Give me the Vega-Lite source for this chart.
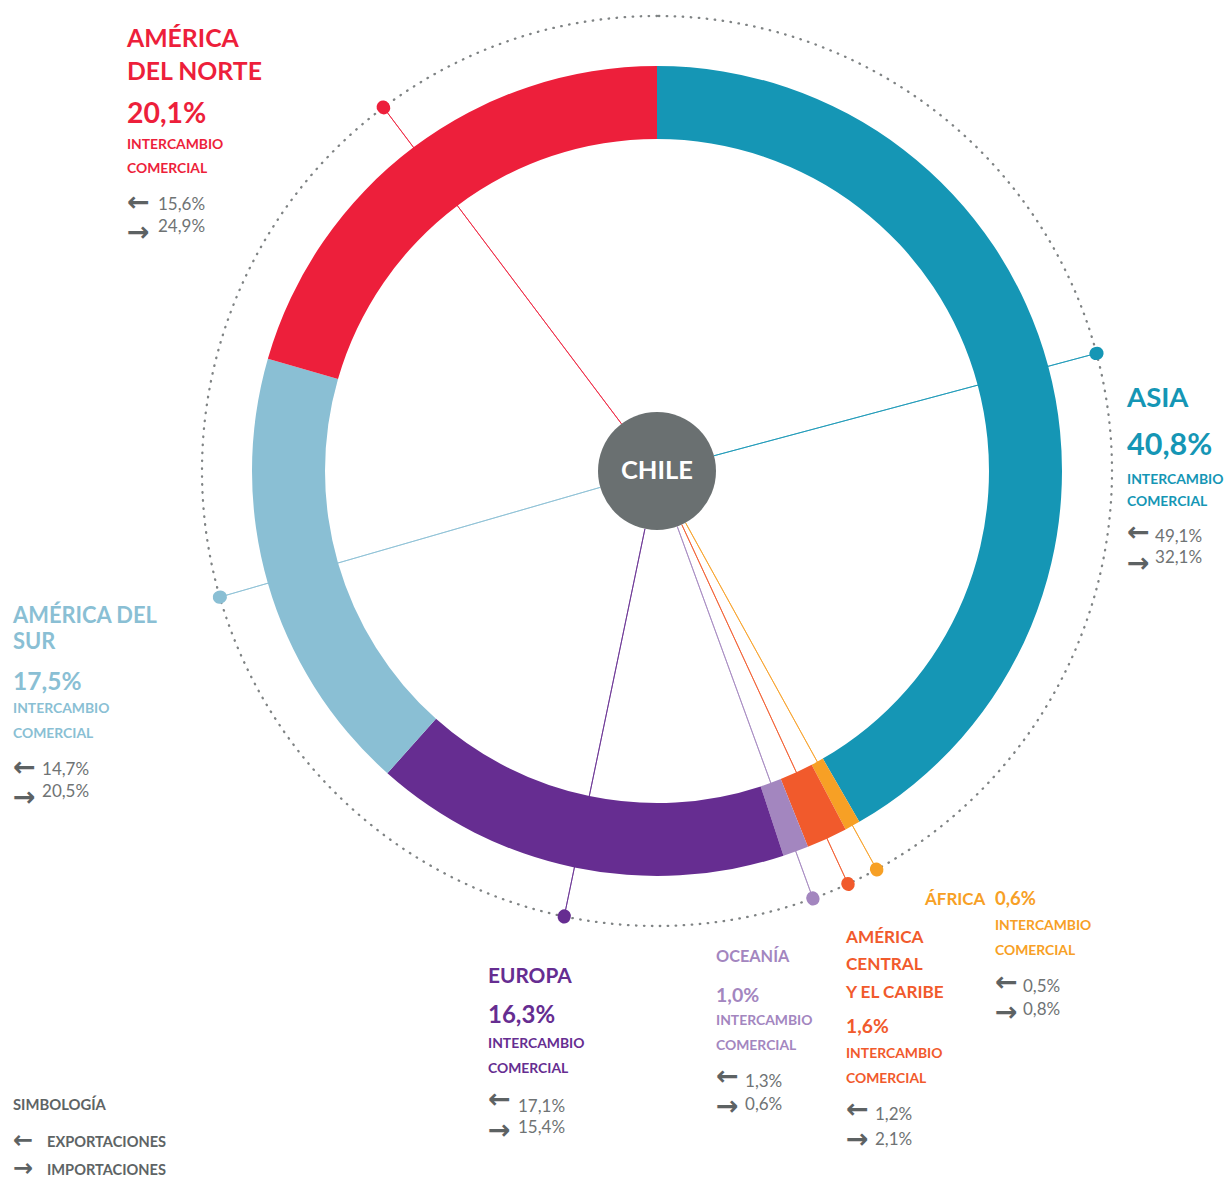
{
  "$schema": "https://vega.github.io/schema/vega-lite/v6.json",
  "width": 1136,
  "height": 942,
  "autosize": {"type": "none"},
  "padding": {"left": 89, "top": 0, "right": 0, "bottom": 239},
  "background": "white",
  "config": {
    "view": {"stroke": null},
    "locale": {"number": {"decimal": ",", "thousands": ".", "grouping": [3], "currency": ["$", ""]}},
    "text": {"font": "Lato"}
  },
  "data": {
    "values": [
      {"region": "Asia", "nombre": ["ASIA"], "share": 0.408, "expo": 0.491, "impo": 0.321},
      {"region": "África", "nombre": ["ÁFRICA"], "share": 0.006, "expo": 0.005, "impo": 0.008},
      {"region": "América Central y el Caribe", "nombre": ["AMÉRICA", "CENTRAL", "Y EL CARIBE"], "share": 0.016, "expo": 0.012, "impo": 0.021},
      {"region": "Oceanía", "nombre": ["OCEANÍA"], "share": 0.010, "expo": 0.013, "impo": 0.006},
      {"region": "Europa", "nombre": ["EUROPA"], "share": 0.163, "expo": 0.171, "impo": 0.154},
      {"region": "América del Sur", "nombre": ["AMÉRICA DEL", "SUR"], "share": 0.175, "expo": 0.147, "impo": 0.205},
      {"region": "América del Norte", "nombre": ["AMÉRICA", "DEL NORTE"], "share": 0.201, "expo": 0.156, "impo": 0.249}
    ]
  },
  "transform": [{"window": [{"op": "row_number", "as": "orden"}]}],
  "layer": [
    {
      "data": {"values": [{"anillo": "exterior"}]},
      "mark": {"type": "arc", "radius": 455, "radius2": 0, "filled": false, "stroke": "#7f8384", "strokeWidth": 2.3, "strokeDash": [0.5, 7.5], "strokeCap": "round"},
      "encoding": {}
    },
    {
      "encoding": {
        "theta": {"field": "share", "type": "quantitative", "stack": true},
        "order": {"field": "orden", "type": "quantitative"},
        "detail": {"field": "region", "type": "nominal"},
        "color": {
          "field": "region", "type": "nominal", "legend": null,
          "scale": {
            "domain": ["Asia", "África", "América Central y el Caribe", "Oceanía", "Europa", "América del Sur", "América del Norte"],
            "range": ["#1596b5", "#f7a025", "#f15a2c", "#a386bf", "#662d91", "#8abfd4", "#ed1f3b"]
          }
        }
      },
      "layer": [
        {"mark": {"type": "arc", "radius": 455, "radius2": 59, "padAngle": 3.3, "filled": false, "strokeWidth": 0.8}},
        {"mark": {"type": "arc", "radius": 405, "radius2": 332}},
        {"mark": {"type": "arc", "radius": 455.6, "radius2": 454.4, "padAngle": 3.3, "filled": false, "strokeWidth": 13, "strokeJoin": "round", "strokeCap": "round"}},

        {"mark": {"type": "text", "radius": 455, "align": "left", "baseline": "alphabetic", "dx": -256.5, "dy": -60.4, "fontSize": 24.8, "fontWeight": "bold", "lineHeight": 33},
         "encoding": {"text": {"condition": {"test": "datum.region === 'América del Norte'", "field": "nombre", "type": "nominal"}, "value": ""}}},
        {"mark": {"type": "text", "radius": 455, "align": "left", "baseline": "alphabetic", "dx": -256.5, "dy": 15.6, "fontSize": 28.4, "fontWeight": "bold"},
         "encoding": {"text": {"condition": {"test": "datum.region === 'América del Norte'", "field": "share", "type": "quantitative", "format": ".1%"}, "value": ""}}},
        {"mark": {"type": "text", "radius": 455, "align": "left", "baseline": "alphabetic", "dx": -256.5, "dy": 41.1, "fontSize": 13.9, "fontWeight": "bold", "lineHeight": 24.5},
         "encoding": {"text": {"condition": {"test": "datum.region === 'América del Norte'", "value": ["INTERCAMBIO", "COMERCIAL"]}, "value": ""}}},
        {"mark": {"type": "text", "radius": 455, "align": "left", "baseline": "middle", "dx": -256.5, "dy": 95.6, "font": "DejaVu Sans", "fontSize": 27, "fontWeight": "bold", "lineHeight": 30},
         "encoding": {"color": {"value": "#5d6263"}, "text": {"condition": {"test": "datum.region === 'América del Norte'", "value": ["←", "→"]}, "value": ""}}},
        {"mark": {"type": "text", "radius": 455, "align": "left", "baseline": "alphabetic", "dx": -225.5, "dy": 102.6, "fontSize": 17},
         "encoding": {"color": {"value": "#6f7374"}, "text": {"condition": {"test": "datum.region === 'América del Norte'", "field": "expo", "type": "quantitative", "format": ".1%"}, "value": ""}}},
        {"mark": {"type": "text", "radius": 455, "align": "left", "baseline": "alphabetic", "dx": -225.5, "dy": 124.6, "fontSize": 17},
         "encoding": {"color": {"value": "#6f7374"}, "text": {"condition": {"test": "datum.region === 'América del Norte'", "field": "impo", "type": "quantitative", "format": ".1%"}, "value": ""}}},

        {"mark": {"type": "text", "radius": 455, "align": "left", "baseline": "alphabetic", "dx": 30.5, "dy": 53.7, "fontSize": 27.5, "fontWeight": "bold"},
         "encoding": {"text": {"condition": {"test": "datum.region === 'Asia'", "field": "nombre", "type": "nominal"}, "value": ""}}},
        {"mark": {"type": "text", "radius": 455, "align": "left", "baseline": "alphabetic", "dx": 30.5, "dy": 101.7, "fontSize": 30.5, "fontWeight": "bold"},
         "encoding": {"text": {"condition": {"test": "datum.region === 'Asia'", "field": "share", "type": "quantitative", "format": ".1%"}, "value": ""}}},
        {"mark": {"type": "text", "radius": 455, "align": "left", "baseline": "alphabetic", "dx": 30.5, "dy": 130.7, "fontSize": 13.9, "fontWeight": "bold", "lineHeight": 22},
         "encoding": {"text": {"condition": {"test": "datum.region === 'Asia'", "value": ["INTERCAMBIO", "COMERCIAL"]}, "value": ""}}},
        {"mark": {"type": "text", "radius": 455, "align": "left", "baseline": "middle", "dx": 30.5, "dy": 179.7, "font": "DejaVu Sans", "fontSize": 27, "fontWeight": "bold", "lineHeight": 31},
         "encoding": {"color": {"value": "#5d6263"}, "text": {"condition": {"test": "datum.region === 'Asia'", "value": ["←", "→"]}, "value": ""}}},
        {"mark": {"type": "text", "radius": 455, "align": "left", "baseline": "alphabetic", "dx": 58.5, "dy": 188.7, "fontSize": 17},
         "encoding": {"color": {"value": "#6f7374"}, "text": {"condition": {"test": "datum.region === 'Asia'", "field": "expo", "type": "quantitative", "format": ".1%"}, "value": ""}}},
        {"mark": {"type": "text", "radius": 455, "align": "left", "baseline": "alphabetic", "dx": 58.5, "dy": 209.7, "fontSize": 17},
         "encoding": {"color": {"value": "#6f7374"}, "text": {"condition": {"test": "datum.region === 'Asia'", "field": "impo", "type": "quantitative", "format": ".1%"}, "value": ""}}},

        {"mark": {"type": "text", "radius": 455, "align": "left", "baseline": "alphabetic", "dx": -206.8, "dy": 25.9, "fontSize": 21.9, "fontWeight": "bold", "lineHeight": 26},
         "encoding": {"text": {"condition": {"test": "datum.region === 'América del Sur'", "field": "nombre", "type": "nominal"}, "value": ""}}},
        {"mark": {"type": "text", "radius": 455, "align": "left", "baseline": "alphabetic", "dx": -206.8, "dy": 92.9, "fontSize": 24.5, "fontWeight": "bold"},
         "encoding": {"text": {"condition": {"test": "datum.region === 'América del Sur'", "field": "share", "type": "quantitative", "format": ".1%"}, "value": ""}}},
        {"mark": {"type": "text", "radius": 455, "align": "left", "baseline": "alphabetic", "dx": -206.8, "dy": 115.9, "fontSize": 13.9, "fontWeight": "bold", "lineHeight": 25},
         "encoding": {"text": {"condition": {"test": "datum.region === 'América del Sur'", "value": ["INTERCAMBIO", "COMERCIAL"]}, "value": ""}}},
        {"mark": {"type": "text", "radius": 455, "align": "left", "baseline": "middle", "dx": -206.8, "dy": 170.9, "font": "DejaVu Sans", "fontSize": 27, "fontWeight": "bold", "lineHeight": 30},
         "encoding": {"color": {"value": "#5d6263"}, "text": {"condition": {"test": "datum.region === 'América del Sur'", "value": ["←", "→"]}, "value": ""}}},
        {"mark": {"type": "text", "radius": 455, "align": "left", "baseline": "alphabetic", "dx": -177.8, "dy": 177.9, "fontSize": 17},
         "encoding": {"color": {"value": "#6f7374"}, "text": {"condition": {"test": "datum.region === 'América del Sur'", "field": "expo", "type": "quantitative", "format": ".1%"}, "value": ""}}},
        {"mark": {"type": "text", "radius": 455, "align": "left", "baseline": "alphabetic", "dx": -177.8, "dy": 199.9, "fontSize": 17},
         "encoding": {"color": {"value": "#6f7374"}, "text": {"condition": {"test": "datum.region === 'América del Sur'", "field": "impo", "type": "quantitative", "format": ".1%"}, "value": ""}}},

        {"mark": {"type": "text", "radius": 455, "align": "left", "baseline": "alphabetic", "dx": -76.2, "dy": 66.6, "fontSize": 20.8, "fontWeight": "bold"},
         "encoding": {"text": {"condition": {"test": "datum.region === 'Europa'", "field": "nombre", "type": "nominal"}, "value": ""}}},
        {"mark": {"type": "text", "radius": 455, "align": "left", "baseline": "alphabetic", "dx": -76.2, "dy": 106.6, "fontSize": 24, "fontWeight": "bold"},
         "encoding": {"text": {"condition": {"test": "datum.region === 'Europa'", "field": "share", "type": "quantitative", "format": ".1%"}, "value": ""}}},
        {"mark": {"type": "text", "radius": 455, "align": "left", "baseline": "alphabetic", "dx": -76.2, "dy": 131.6, "fontSize": 13.9, "fontWeight": "bold", "lineHeight": 25},
         "encoding": {"text": {"condition": {"test": "datum.region === 'Europa'", "value": ["INTERCAMBIO", "COMERCIAL"]}, "value": ""}}},
        {"mark": {"type": "text", "radius": 455, "align": "left", "baseline": "middle", "dx": -76.2, "dy": 183.6, "font": "DejaVu Sans", "fontSize": 27, "fontWeight": "bold", "lineHeight": 31},
         "encoding": {"color": {"value": "#5d6263"}, "text": {"condition": {"test": "datum.region === 'Europa'", "value": ["←", "→"]}, "value": ""}}},
        {"mark": {"type": "text", "radius": 455, "align": "left", "baseline": "alphabetic", "dx": -46.2, "dy": 195.6, "fontSize": 17},
         "encoding": {"color": {"value": "#6f7374"}, "text": {"condition": {"test": "datum.region === 'Europa'", "field": "expo", "type": "quantitative", "format": ".1%"}, "value": ""}}},
        {"mark": {"type": "text", "radius": 455, "align": "left", "baseline": "alphabetic", "dx": -46.2, "dy": 216.6, "fontSize": 17},
         "encoding": {"color": {"value": "#6f7374"}, "text": {"condition": {"test": "datum.region === 'Europa'", "field": "impo", "type": "quantitative", "format": ".1%"}, "value": ""}}},

        {"mark": {"type": "text", "radius": 455, "align": "left", "baseline": "alphabetic", "dx": -96.9, "dy": 63.6, "fontSize": 16.3, "fontWeight": "bold"},
         "encoding": {"text": {"condition": {"test": "datum.region === 'Oceanía'", "field": "nombre", "type": "nominal"}, "value": ""}}},
        {"mark": {"type": "text", "radius": 455, "align": "left", "baseline": "alphabetic", "dx": -96.9, "dy": 103.6, "fontSize": 19.5, "fontWeight": "bold"},
         "encoding": {"text": {"condition": {"test": "datum.region === 'Oceanía'", "field": "share", "type": "quantitative", "format": ".1%"}, "value": ""}}},
        {"mark": {"type": "text", "radius": 455, "align": "left", "baseline": "alphabetic", "dx": -96.9, "dy": 126.6, "fontSize": 13.9, "fontWeight": "bold", "lineHeight": 25},
         "encoding": {"text": {"condition": {"test": "datum.region === 'Oceanía'", "value": ["INTERCAMBIO", "COMERCIAL"]}, "value": ""}}},
        {"mark": {"type": "text", "radius": 455, "align": "left", "baseline": "middle", "dx": -96.9, "dy": 178.6, "font": "DejaVu Sans", "fontSize": 27, "fontWeight": "bold", "lineHeight": 30},
         "encoding": {"color": {"value": "#5d6263"}, "text": {"condition": {"test": "datum.region === 'Oceanía'", "value": ["←", "→"]}, "value": ""}}},
        {"mark": {"type": "text", "radius": 455, "align": "left", "baseline": "alphabetic", "dx": -67.9, "dy": 188.6, "fontSize": 17},
         "encoding": {"color": {"value": "#6f7374"}, "text": {"condition": {"test": "datum.region === 'Oceanía'", "field": "expo", "type": "quantitative", "format": ".1%"}, "value": ""}}},
        {"mark": {"type": "text", "radius": 455, "align": "left", "baseline": "alphabetic", "dx": -67.9, "dy": 211.6, "fontSize": 17},
         "encoding": {"color": {"value": "#6f7374"}, "text": {"condition": {"test": "datum.region === 'Oceanía'", "field": "impo", "type": "quantitative", "format": ".1%"}, "value": ""}}},

        {"mark": {"type": "text", "radius": 455, "align": "left", "baseline": "alphabetic", "dx": -2, "dy": 59, "fontSize": 17.2, "fontWeight": "bold", "lineHeight": 27.5},
         "encoding": {"text": {"condition": {"test": "datum.region === 'América Central y el Caribe'", "field": "nombre", "type": "nominal"}, "value": ""}}},
        {"mark": {"type": "text", "radius": 455, "align": "left", "baseline": "alphabetic", "dx": -2, "dy": 149, "fontSize": 19.3, "fontWeight": "bold"},
         "encoding": {"text": {"condition": {"test": "datum.region === 'América Central y el Caribe'", "field": "share", "type": "quantitative", "format": ".1%"}, "value": ""}}},
        {"mark": {"type": "text", "radius": 455, "align": "left", "baseline": "alphabetic", "dx": -2, "dy": 174, "fontSize": 13.9, "fontWeight": "bold", "lineHeight": 25},
         "encoding": {"text": {"condition": {"test": "datum.region === 'América Central y el Caribe'", "value": ["INTERCAMBIO", "COMERCIAL"]}, "value": ""}}},
        {"mark": {"type": "text", "radius": 455, "align": "left", "baseline": "middle", "dx": -2, "dy": 226, "font": "DejaVu Sans", "fontSize": 27, "fontWeight": "bold", "lineHeight": 30},
         "encoding": {"color": {"value": "#5d6263"}, "text": {"condition": {"test": "datum.region === 'América Central y el Caribe'", "value": ["←", "→"]}, "value": ""}}},
        {"mark": {"type": "text", "radius": 455, "align": "left", "baseline": "alphabetic", "dx": 27, "dy": 236, "fontSize": 17},
         "encoding": {"color": {"value": "#6f7374"}, "text": {"condition": {"test": "datum.region === 'América Central y el Caribe'", "field": "expo", "type": "quantitative", "format": ".1%"}, "value": ""}}},
        {"mark": {"type": "text", "radius": 455, "align": "left", "baseline": "alphabetic", "dx": 27, "dy": 261, "fontSize": 17},
         "encoding": {"color": {"value": "#6f7374"}, "text": {"condition": {"test": "datum.region === 'América Central y el Caribe'", "field": "impo", "type": "quantitative", "format": ".1%"}, "value": ""}}},

        {"mark": {"type": "text", "radius": 455, "align": "left", "baseline": "alphabetic", "dx": 48.3, "dy": 35.6, "fontSize": 17, "fontWeight": "bold"},
         "encoding": {"text": {"condition": {"test": "datum.region === 'África'", "field": "nombre", "type": "nominal"}, "value": ""}}},
        {"mark": {"type": "text", "radius": 455, "align": "left", "baseline": "alphabetic", "dx": 118.3, "dy": 35.6, "fontSize": 18.5, "fontWeight": "bold"},
         "encoding": {"text": {"condition": {"test": "datum.region === 'África'", "field": "share", "type": "quantitative", "format": ".1%"}, "value": ""}}},
        {"mark": {"type": "text", "radius": 455, "align": "left", "baseline": "alphabetic", "dx": 118.3, "dy": 60.6, "fontSize": 13.9, "fontWeight": "bold", "lineHeight": 25},
         "encoding": {"text": {"condition": {"test": "datum.region === 'África'", "value": ["INTERCAMBIO", "COMERCIAL"]}, "value": ""}}},
        {"mark": {"type": "text", "radius": 455, "align": "left", "baseline": "middle", "dx": 118.3, "dy": 113.6, "font": "DejaVu Sans", "fontSize": 27, "fontWeight": "bold", "lineHeight": 30},
         "encoding": {"color": {"value": "#5d6263"}, "text": {"condition": {"test": "datum.region === 'África'", "value": ["←", "→"]}, "value": ""}}},
        {"mark": {"type": "text", "radius": 455, "align": "left", "baseline": "alphabetic", "dx": 146.3, "dy": 122.6, "fontSize": 17},
         "encoding": {"color": {"value": "#6f7374"}, "text": {"condition": {"test": "datum.region === 'África'", "field": "expo", "type": "quantitative", "format": ".1%"}, "value": ""}}},
        {"mark": {"type": "text", "radius": 455, "align": "left", "baseline": "alphabetic", "dx": 146.3, "dy": 145.6, "fontSize": 17},
         "encoding": {"color": {"value": "#6f7374"}, "text": {"condition": {"test": "datum.region === 'África'", "field": "impo", "type": "quantitative", "format": ".1%"}, "value": ""}}}
      ]
    },
    {
      "data": {"values": [{"pais": "CHILE"}]},
      "layer": [
        {"mark": {"type": "arc", "radius": 59, "radius2": 0, "color": "#6a7071"}, "encoding": {}},
        {"mark": {"type": "text", "align": "center", "baseline": "middle", "fontSize": 25.5, "fontWeight": "bold", "color": "white"},
         "encoding": {"text": {"field": "pais", "type": "nominal"}}}
      ]
    },
    {
      "data": {"values": [{"titulo": "SIMBOLOGÍA", "flujos": ["EXPORTACIONES", "IMPORTACIONES"]}]},
      "layer": [
        {"mark": {"type": "text", "align": "left", "baseline": "alphabetic", "dx": -644, "dy": 639, "fontSize": 14.8, "fontWeight": "bold", "color": "#5e6465"},
         "encoding": {"text": {"field": "titulo", "type": "nominal"}}},
        {"mark": {"type": "text", "align": "left", "baseline": "middle", "dx": -644, "dy": 670, "font": "DejaVu Sans", "fontSize": 24, "fontWeight": "bold", "lineHeight": 28, "color": "#5d6263"},
         "encoding": {"text": {"value": ["←", "→"]}}},
        {"mark": {"type": "text", "align": "left", "baseline": "alphabetic", "dx": -610, "dy": 676, "fontSize": 14.6, "fontWeight": "bold", "lineHeight": 28, "color": "#5e6465"},
         "encoding": {"text": {"field": "flujos", "type": "nominal"}}}
      ]
    }
  ]
}
